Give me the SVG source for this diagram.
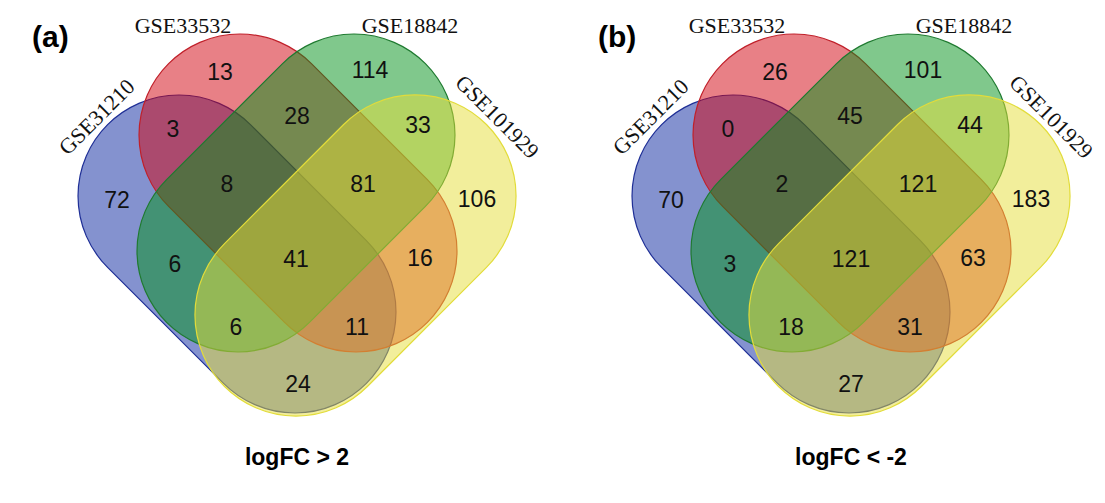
<svg xmlns="http://www.w3.org/2000/svg" width="1105" height="503" viewBox="0 0 1105 503">
<style>
.set{stroke-width:1.2;fill-opacity:0.5}
.blue{fill:#09259f;stroke:#1f2f96}
.red{fill:#d1010d;stroke:#c0202a}
.green{fill:#019119;stroke:#1f7a30}
.yellow{fill:#e5dd37;stroke:#e2dc3a}
.num{font-family:"Liberation Sans",Arial,sans-serif;font-size:23px;fill:#111;text-anchor:middle}
.lab{font-family:"Liberation Serif","Times New Roman",serif;font-size:22px;fill:#111;text-anchor:middle}
.title{font-family:"Liberation Sans",Arial,sans-serif;font-weight:bold;fill:#000}
</style>
<defs>
<rect id="stad" x="-183" y="-101" width="366" height="202" rx="101" ry="101"/>
<rect id="stadY" x="-185.2" y="-101" width="370.4" height="202" rx="101" ry="101"/>
</defs>
<rect width="1105" height="503" fill="#fff"/>

<!-- Panel (a) -->
<g id="panel-a">
<text class="title" x="32" y="47" font-size="30">(a)</text>
<g id="a-GSE31210">
<use href="#stad" class="set blue" transform="translate(237 254) rotate(45)"/>
<text class="lab" transform="translate(102 122) rotate(-45)">GSE31210</text>
</g>
<g id="a-GSE33532">
<use href="#stad" class="set red" transform="translate(298 193) rotate(45)"/>
<text class="lab" x="183" y="33">GSE33532</text>
</g>
<g id="a-GSE18842">
<use href="#stad" class="set green" transform="translate(296 193) rotate(-45)"/>
<text class="lab" x="410" y="33">GSE18842</text>
</g>
<g id="a-GSE101929">
<use href="#stadY" class="set yellow" transform="translate(355.5 255.5) rotate(-45)"/>
<text class="lab" transform="translate(492 122) rotate(45)">GSE101929</text>
</g>
<g id="a-counts">
<text class="num" x="220" y="80">13</text>
<text class="num" x="370" y="78">114</text>
<text class="num" x="173" y="137">3</text>
<text class="num" x="297" y="124">28</text>
<text class="num" x="418" y="133">33</text>
<text class="num" x="117" y="208">72</text>
<text class="num" x="227" y="192">8</text>
<text class="num" x="363" y="192">81</text>
<text class="num" x="477" y="207">106</text>
<text class="num" x="175" y="272">6</text>
<text class="num" x="296" y="267">41</text>
<text class="num" x="420" y="266">16</text>
<text class="num" x="236" y="335">6</text>
<text class="num" x="357" y="335">11</text>
<text class="num" x="298" y="392">24</text>
</g>
<text class="title" x="297" y="465" font-size="23" text-anchor="middle">logFC &gt; 2</text>
</g>

<!-- Panel (b) -->
<g id="panel-b">
<text class="title" x="598" y="47" font-size="30">(b)</text>
<g transform="translate(554 0)">
<g id="b-GSE31210">
<use href="#stad" class="set blue" transform="translate(237 254) rotate(45)"/>
<text class="lab" transform="translate(102 122) rotate(-45)">GSE31210</text>
</g>
<g id="b-GSE33532">
<use href="#stad" class="set red" transform="translate(298 193) rotate(45)"/>
<text class="lab" x="183" y="33">GSE33532</text>
</g>
<g id="b-GSE18842">
<use href="#stad" class="set green" transform="translate(296 193) rotate(-45)"/>
<text class="lab" x="410" y="33">GSE18842</text>
</g>
<g id="b-GSE101929">
<use href="#stadY" class="set yellow" transform="translate(355.5 255.5) rotate(-45)"/>
<text class="lab" transform="translate(492 122) rotate(45)">GSE101929</text>
</g>
<g id="b-counts">
<text class="num" x="221" y="80">26</text>
<text class="num" x="369" y="78">101</text>
<text class="num" x="174" y="137">0</text>
<text class="num" x="296" y="124">45</text>
<text class="num" x="416" y="133">44</text>
<text class="num" x="117" y="208">70</text>
<text class="num" x="228" y="192">2</text>
<text class="num" x="364" y="192">121</text>
<text class="num" x="477" y="207">183</text>
<text class="num" x="176" y="272">3</text>
<text class="num" x="297" y="267">121</text>
<text class="num" x="419" y="266">63</text>
<text class="num" x="237" y="335">18</text>
<text class="num" x="356" y="335">31</text>
<text class="num" x="297" y="392">27</text>
</g>
<text class="title" x="297" y="465" font-size="23" text-anchor="middle">logFC &lt; -2</text>
</g>
</g>
</svg>
